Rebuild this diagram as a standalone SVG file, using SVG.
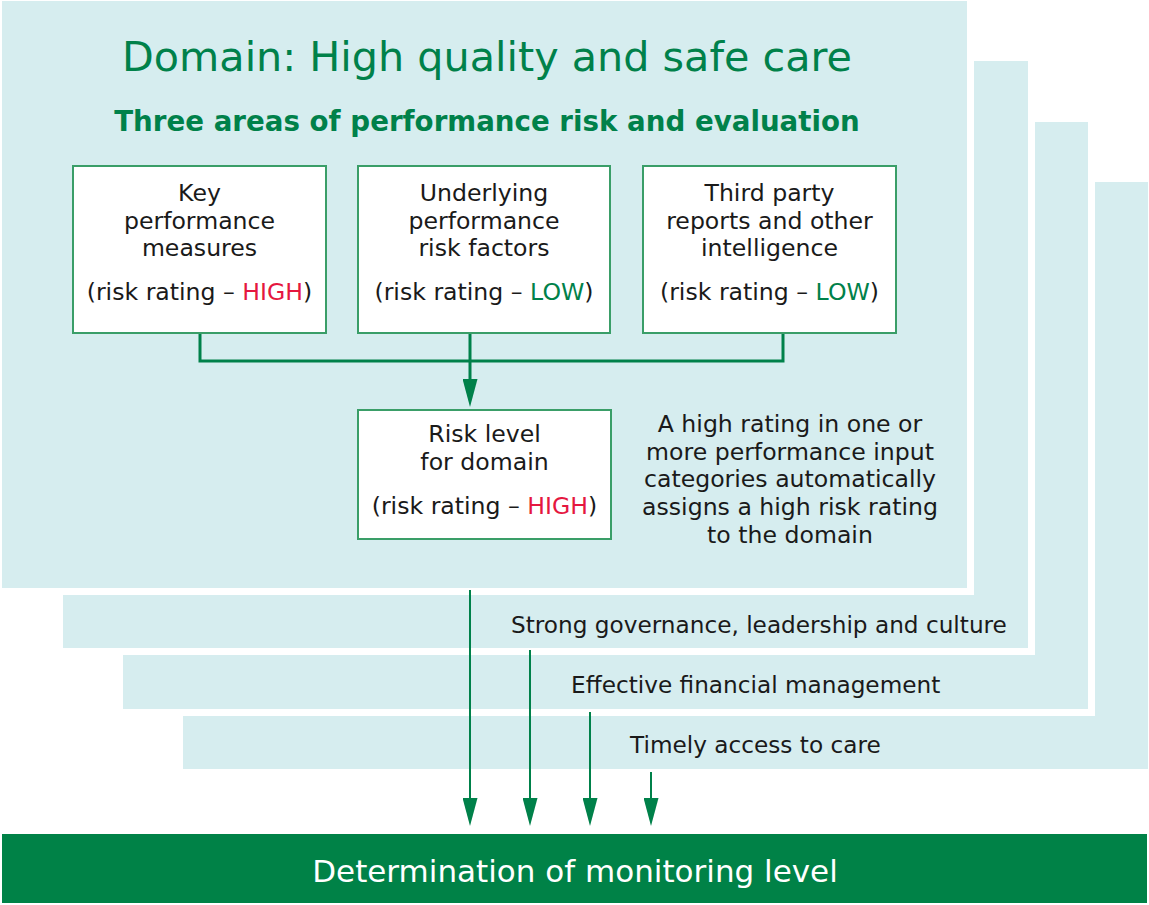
<svg xmlns="http://www.w3.org/2000/svg" width="1149" height="905" viewBox="0 0 1149 905">
<style>
.panel{fill:#d6edef}
.halo{fill:#ffffff}
.box{fill:#ffffff;stroke:#3a9e68;stroke-width:2}
.t{font-family:"DejaVu Sans","Liberation Sans",sans-serif;fill:#1a1a1a;text-anchor:middle}
.b{font-size:23.6px}
.hi{fill:#e5173f}
.lo{fill:#00814a}
.g{fill:#00814a}
.lbl{font-family:"DejaVu Sans","Liberation Sans",sans-serif;fill:#1a1a1a;font-size:23.2px}
.conn{fill:none;stroke:#00814a}
</style>
<defs>
<marker id="ah" markerUnits="userSpaceOnUse" viewBox="0 0 28 15" refX="0" refY="7.5" markerWidth="28" markerHeight="15" orient="auto">
<path d="M0 0 L28 7.5 L0 15 Z" fill="#00814a"/>
</marker>
</defs>
<rect width="1149" height="905" fill="#ffffff"/>
<g id="panel-timely">
<rect class="panel" x="183" y="182" width="965" height="587"/>
<text class="lbl" x="630" y="753">Timely access to care</text>
</g>
<g id="panel-financial">
<rect class="halo" x="116" y="115" width="979" height="601"/>
<rect class="panel" x="123" y="122" width="965" height="587"/>
<text class="lbl" x="571" y="693">Effective financial management</text>
</g>
<g id="panel-governance">
<rect class="halo" x="56" y="54" width="979" height="601"/>
<rect class="panel" x="63" y="61" width="965" height="587"/>
<text class="lbl" x="511" y="633">Strong governance, leadership and culture</text>
</g>
<g id="panel-domain">
<rect class="halo" x="0" y="0" width="974" height="595"/>
<rect class="panel" x="2" y="1" width="965" height="587"/>
<text class="t g" x="487" y="71" font-size="41.3">Domain: High quality and safe care</text>
<text class="t g" x="487" y="131" font-size="27.7" font-weight="bold">Three areas of performance risk and evaluation</text>
</g>
<g id="node-kpm">
<rect class="box" x="73" y="166" width="253" height="167"/>
<text class="t b" x="199.5" y="201">Key</text>
<text class="t b" x="199.5" y="229">performance</text>
<text class="t b" x="199.5" y="256">measures</text>
<text class="t b" x="199.5" y="300">(risk rating – <tspan class="hi">HIGH</tspan>)</text>
</g>
<g id="node-uprf">
<rect class="box" x="358" y="166" width="252" height="167"/>
<text class="t b" x="484" y="201">Underlying</text>
<text class="t b" x="484" y="229">performance</text>
<text class="t b" x="484" y="256">risk factors</text>
<text class="t b" x="484" y="300">(risk rating – <tspan class="lo">LOW</tspan>)</text>
</g>
<g id="node-third">
<rect class="box" x="643" y="166" width="253" height="167"/>
<text class="t b" x="769.5" y="201">Third party</text>
<text class="t b" x="769.5" y="229">reports and other</text>
<text class="t b" x="769.5" y="256">intelligence</text>
<text class="t b" x="769.5" y="300">(risk rating – <tspan class="lo">LOW</tspan>)</text>
</g>
<g id="node-risklevel">
<rect class="box" x="358" y="410" width="253" height="129"/>
<text class="t b" x="484.5" y="442">Risk level</text>
<text class="t b" x="484.5" y="470">for domain</text>
<text class="t b" x="484.5" y="514">(risk rating – <tspan class="hi">HIGH</tspan>)</text>
</g>
<g id="note">
<text class="t b" x="790" y="432">A high rating in one or</text>
<text class="t b" x="790" y="460">more performance input</text>
<text class="t b" x="790" y="487">categories automatically</text>
<text class="t b" x="790" y="515">assigns a high risk rating</text>
<text class="t b" x="790" y="543">to the domain</text>
</g>
<g id="node-monitoring">
<rect x="2" y="834" width="1145" height="69" fill="#008247"/>
<text class="t" x="575" y="882" font-size="31" style="fill:#ffffff">Determination of monitoring level</text>
</g>
<g id="connectors">
<path class="conn" stroke-width="3" d="M200 334 V361 H783 V334"/>
<path class="conn" stroke-width="3" d="M470 334 V379" marker-end="url(#ah)"/>
<path class="conn" stroke-width="2" d="M470 590 V798" marker-end="url(#ah)"/>
<path class="conn" stroke-width="2" d="M530 650 V798" marker-end="url(#ah)"/>
<path class="conn" stroke-width="2" d="M590 712 V798" marker-end="url(#ah)"/>
<path class="conn" stroke-width="2" d="M651 772 V798" marker-end="url(#ah)"/>
</g>
</svg>
